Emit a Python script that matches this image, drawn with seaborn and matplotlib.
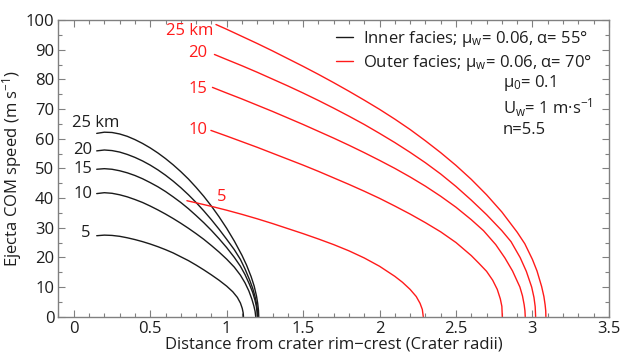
import numpy as np
import pandas as pd
import matplotlib
matplotlib.use("Agg")
import matplotlib.pyplot as plt
from matplotlib.lines import Line2D
from matplotlib.ticker import MultipleLocator, FixedLocator, FixedFormatter
import seaborn as sns

# ---------------- data ----------------
sizes = ["5", "10", "15", "20", "25"]

inner_x_5 = [0.15, 0.2, 0.25, 0.3, 0.35, 0.4, 0.45, 0.5, 0.55, 0.6, 0.65, 0.7, 0.75, 0.8, 0.85, 0.9,
             0.95, 1.0, 1.04, 1.07, 1.09, 1.102, 1.108, 1.11]
inner_y_5 = [27.3, 27.5, 27.4, 27.1, 26.6, 26.0, 25.3, 24.5, 23.6, 22.6, 21.5, 20.2, 18.9, 17.4, 15.8, 14.1,
             12.3, 10.3, 8.4, 6.5, 4.6, 2.8, 1.3, 0.0]
inner_x_10 = [0.15, 0.2, 0.25, 0.3, 0.35, 0.4, 0.45, 0.5, 0.55, 0.6, 0.65, 0.7, 0.75, 0.8, 0.85, 0.9,
              0.95, 1.0, 1.05, 1.09, 1.12, 1.145, 1.165, 1.178, 1.186, 1.19]
inner_y_10 = [41.5, 41.8, 41.6, 41.1, 40.4, 39.5, 38.5, 37.3, 36.0, 34.6, 33.1, 31.5, 29.8, 28.0, 26.1, 24.0,
              21.8, 19.4, 16.7, 14.0, 11.4, 8.7, 5.9, 3.6, 1.8, 0.0]
inner_x_15 = [0.15, 0.2, 0.25, 0.3, 0.35, 0.4, 0.45, 0.5, 0.55, 0.6, 0.65, 0.7, 0.75, 0.8, 0.85, 0.9,
              0.95, 1.0, 1.05, 1.09, 1.12, 1.15, 1.17, 1.185, 1.194, 1.198, 1.2]
inner_y_15 = [49.7, 49.9, 49.7, 49.2, 48.5, 47.6, 46.5, 45.2, 43.8, 42.2, 40.4, 38.5, 36.4, 34.1, 31.7, 29.1,
              26.3, 23.3, 20.0, 17.0, 14.2, 10.8, 8.2, 5.6, 3.5, 1.8, 0.0]
inner_x_20 = [0.15, 0.2, 0.25, 0.3, 0.35, 0.4, 0.45, 0.5, 0.55, 0.6, 0.65, 0.7, 0.75, 0.8, 0.85, 0.9,
              0.95, 1.0, 1.05, 1.09, 1.12, 1.15, 1.17, 1.185, 1.195, 1.201, 1.205]
inner_y_20 = [55.9, 56.2, 56.0, 55.5, 54.7, 53.7, 52.5, 51.1, 49.5, 47.7, 45.7, 43.5, 41.1, 38.5, 35.7, 32.7,
              29.5, 26.1, 22.6, 19.3, 16.1, 12.4, 9.6, 6.9, 4.5, 2.4, 0.0]
inner_x_25 = [0.15, 0.2, 0.25, 0.3, 0.35, 0.4, 0.45, 0.5, 0.55, 0.6, 0.65, 0.7, 0.75, 0.8, 0.85, 0.9,
              0.95, 1.0, 1.05, 1.1, 1.13, 1.16, 1.18, 1.195, 1.203, 1.208, 1.21]
inner_y_25 = [61.8, 62.2, 62.1, 61.6, 60.8, 59.7, 58.4, 56.9, 55.2, 53.3, 51.2, 48.9, 46.4, 43.6, 40.6, 37.3,
              33.7, 29.8, 25.5, 20.7, 17.4, 13.5, 10.3, 7.0, 4.5, 2.2, 0.0]

outer_x_5 = [0.74, 0.8, 0.9, 1.0, 1.1, 1.2, 1.3, 1.4, 1.5, 1.6, 1.7, 1.8, 1.9, 2.0, 2.1, 2.15, 2.2,
             2.24, 2.265, 2.28, 2.286]
outer_y_5 = [39.1, 38.4, 37.2, 35.9, 34.5, 33.0, 31.4, 29.7, 28.0, 26.2, 24.3, 22.2, 19.8, 17.0, 13.6,
             11.6, 9.2, 6.8, 4.5, 2.4, 0.0]
outer_x_10 = [0.897, 1.0, 1.1, 1.2, 1.3, 1.4, 1.5, 1.6, 1.7, 1.8, 1.9, 2.0, 2.1, 2.2, 2.3, 2.4, 2.5,
              2.6, 2.65, 2.7, 2.74, 2.77, 2.79, 2.8, 2.803]
outer_y_10 = [62.8, 60.9, 59.0, 57.1, 55.1, 53.1, 51.1, 49.0, 46.8, 44.6, 42.3, 39.9, 37.3, 34.6, 31.7,
              28.6, 25.0, 20.6, 18.0, 15.3, 12.3, 9.2, 6.0, 3.5, 0.0]
outer_x_15 = [0.907, 1.0, 1.1, 1.2, 1.3, 1.4, 1.5, 1.6, 1.7, 1.8, 1.9, 2.0, 2.1, 2.2, 2.3, 2.4, 2.5,
              2.6, 2.68, 2.76, 2.82, 2.87, 2.918, 2.935, 2.946, 2.951, 2.953]
outer_y_15 = [77.3, 75.4, 73.4, 71.3, 69.2, 67.0, 64.8, 62.5, 60.2, 57.8, 55.3, 52.7, 50.0, 47.1, 44.0,
              40.6, 36.9, 32.7, 29.0, 24.3, 19.8, 15.4, 10.0, 7.0, 4.0, 2.0, 0.0]
outer_x_20 = [0.92, 1.0, 1.1, 1.2, 1.3, 1.4, 1.5, 1.6, 1.7, 1.8, 1.9, 2.0, 2.1, 2.2, 2.3, 2.4, 2.5,
              2.6, 2.7, 2.8, 2.86, 2.92, 2.96, 2.995, 3.01, 3.018, 3.021]
outer_y_20 = [88.4, 86.7, 84.6, 82.4, 80.1, 77.8, 75.4, 72.9, 70.3, 67.6, 64.8, 61.8, 58.7, 55.4, 51.9,
              48.1, 43.9, 39.3, 34.4, 29.0, 25.3, 19.9, 15.3, 10.0, 6.5, 3.4, 0.0]
outer_x_25 = [0.93, 1.0, 1.1, 1.2, 1.3, 1.4, 1.5, 1.6, 1.7, 1.8, 1.9, 2.0, 2.1, 2.2, 2.3, 2.4, 2.5,
              2.6, 2.7, 2.8, 2.9, 2.95, 3.0, 3.03, 3.06, 3.075, 3.083, 3.087, 3.088]
outer_y_25 = [98.5, 96.9, 94.5, 92.1, 89.6, 87.0, 84.4, 81.7, 78.9, 76.0, 73.0, 69.9, 66.6, 63.1, 59.3,
              55.3, 51.0, 46.3, 41.1, 35.3, 28.5, 24.6, 19.3, 15.4, 10.2, 6.8, 4.0, 2.0, 0.0]

x_ticks = [0, 0.5, 1, 1.5, 2, 2.5, 3, 3.5]
x_tick_labels = ["0", "0.5", "1", "1.5", "2", "2.5", "3", "3.5"]
y_ticks = [0, 10, 20, 30, 40, 50, 60, 70, 80, 90, 100]

inner_label_text = ["5", "10", "15", "20", "25 km"]
outer_label_text = ["5", "10", "15", "20", "25 km"]

# ---------------- build table ----------------
inner = {"5": (inner_x_5, inner_y_5), "10": (inner_x_10, inner_y_10), "15": (inner_x_15, inner_y_15),
         "20": (inner_x_20, inner_y_20), "25": (inner_x_25, inner_y_25)}
outer = {"5": (outer_x_5, outer_y_5), "10": (outer_x_10, outer_y_10), "15": (outer_x_15, outer_y_15),
         "20": (outer_x_20, outer_y_20), "25": (outer_x_25, outer_y_25)}
rows = []
for fac, d in (("Inner", inner), ("Outer", outer)):
    for s in sizes:
        xs, ys = d[s]
        for i, (a, b) in enumerate(zip(xs, ys)):
            rows.append({"facies": fac, "size": s, "order": i, "x": a, "y": b})
df = pd.DataFrame(rows)
df["curve"] = df["facies"] + "_" + df["size"]

# ---------------- style ----------------
sns.set_theme(style="ticks")
plt.rcParams["font.family"] = ["Open Sans", "DejaVu Sans"]
plt.rcParams["mathtext.fontset"] = "custom"
plt.rcParams["mathtext.rm"] = "Open Sans"
plt.rcParams["mathtext.it"] = "Open Sans:italic"
plt.rcParams["mathtext.bf"] = "Open Sans:bold"

TXT = "#1e1e1e"
SPINE = "#808080"
RED = "#ff1a1a"
FS = 12

fig = plt.figure(figsize=(6.29, 3.52), dpi=100)
ax = fig.add_axes([0.093, 0.1003, 0.875, 0.8427])

palette = {}
for s in sizes:
    palette["Inner_" + s] = "#1a1a1a"
    palette["Outer_" + s] = RED

sns.lineplot(data=df, x="x", y="y", hue="curve", units="curve", estimator=None,
             sort=False, palette=palette, legend=False, linewidth=1.0, ax=ax)

ax.set_xlim(-0.1, 3.5)
ax.set_ylim(0, 100)

ax.xaxis.set_major_locator(FixedLocator(x_ticks))
ax.xaxis.set_major_formatter(FixedFormatter(x_tick_labels))
ax.xaxis.set_minor_locator(MultipleLocator(0.1))
ax.yaxis.set_major_locator(FixedLocator(y_ticks))
ax.yaxis.set_minor_locator(MultipleLocator(5))

for sp in ax.spines.values():
    sp.set_visible(True)
    sp.set_color(SPINE)
    sp.set_linewidth(1.0)
ax.tick_params(which="both", direction="in", top=True, right=True, color=SPINE,
               labelcolor=TXT, labelsize=FS, pad=3)
ax.tick_params(which="major", length=5, width=0.8)
ax.tick_params(which="minor", length=3, width=0.8)

ax.set_xlabel("Distance from crater rim\u2212crest (Crater radii)", fontsize=FS, color=TXT, labelpad=0)
ax.set_ylabel("Ejecta COM speed (m s$^{-1}$)", fontsize=FS, color=TXT, labelpad=1)

# curve labels
inner_label_pos = {"5": (0.112, 28.1), "10": (0.12, 41.4), "15": (0.12, 49.8), "20": (0.12, 56.2)}
for s, txt in zip(sizes, inner_label_text):
    if s == "25":
        ax.text(-0.012, 65.3, txt, ha="left", va="center", fontsize=FS, color=TXT)
    else:
        px, py = inner_label_pos[s]
        ax.text(px, py, txt, ha="right", va="center", fontsize=FS, color=TXT)
outer_label_pos = {"5": (0.965, 40.3), "10": (0.875, 62.9), "15": (0.875, 76.6),
                   "20": (0.875, 88.8), "25": (0.91, 96.3)}
for s, txt in zip(sizes, outer_label_text):
    px, py = outer_label_pos[s]
    ax.text(px, py, txt, ha="center" if s == "5" else "right", va="center", fontsize=FS, color=RED)

# legend
handles = [Line2D([], [], color="#1a1a1a", lw=1.0), Line2D([], [], color=RED, lw=1.0)]
labels = ["Inner facies; \u03bc$_{\\rm w}$= 0.06, \u03b1= 55\u00b0",
          "Outer facies; \u03bc$_{\\rm w}$= 0.06, \u03b1= 70\u00b0"]
leg = ax.legend(handles, labels, loc="upper right", frameon=False, fontsize=FS,
                handlelength=1.0, handletextpad=0.6, borderaxespad=0.15,
                labelspacing=0.2, bbox_to_anchor=(0.986, 1.0))
for t in leg.get_texts():
    t.set_color(TXT)

ax.text(0.807, 0.788, "\u03bc$_0$= 0.1", transform=ax.transAxes, fontsize=FS, color=TXT, va="center")
ax.text(0.807, 0.703, "U$_{\\rm w}$= 1 m\u00b7s$^{-1}$", transform=ax.transAxes, fontsize=FS, color=TXT, va="center")
ax.text(0.807, 0.629, "n=5.5", transform=ax.transAxes, fontsize=FS, color=TXT, va="center")

fig.savefig("out.png", dpi=100)
